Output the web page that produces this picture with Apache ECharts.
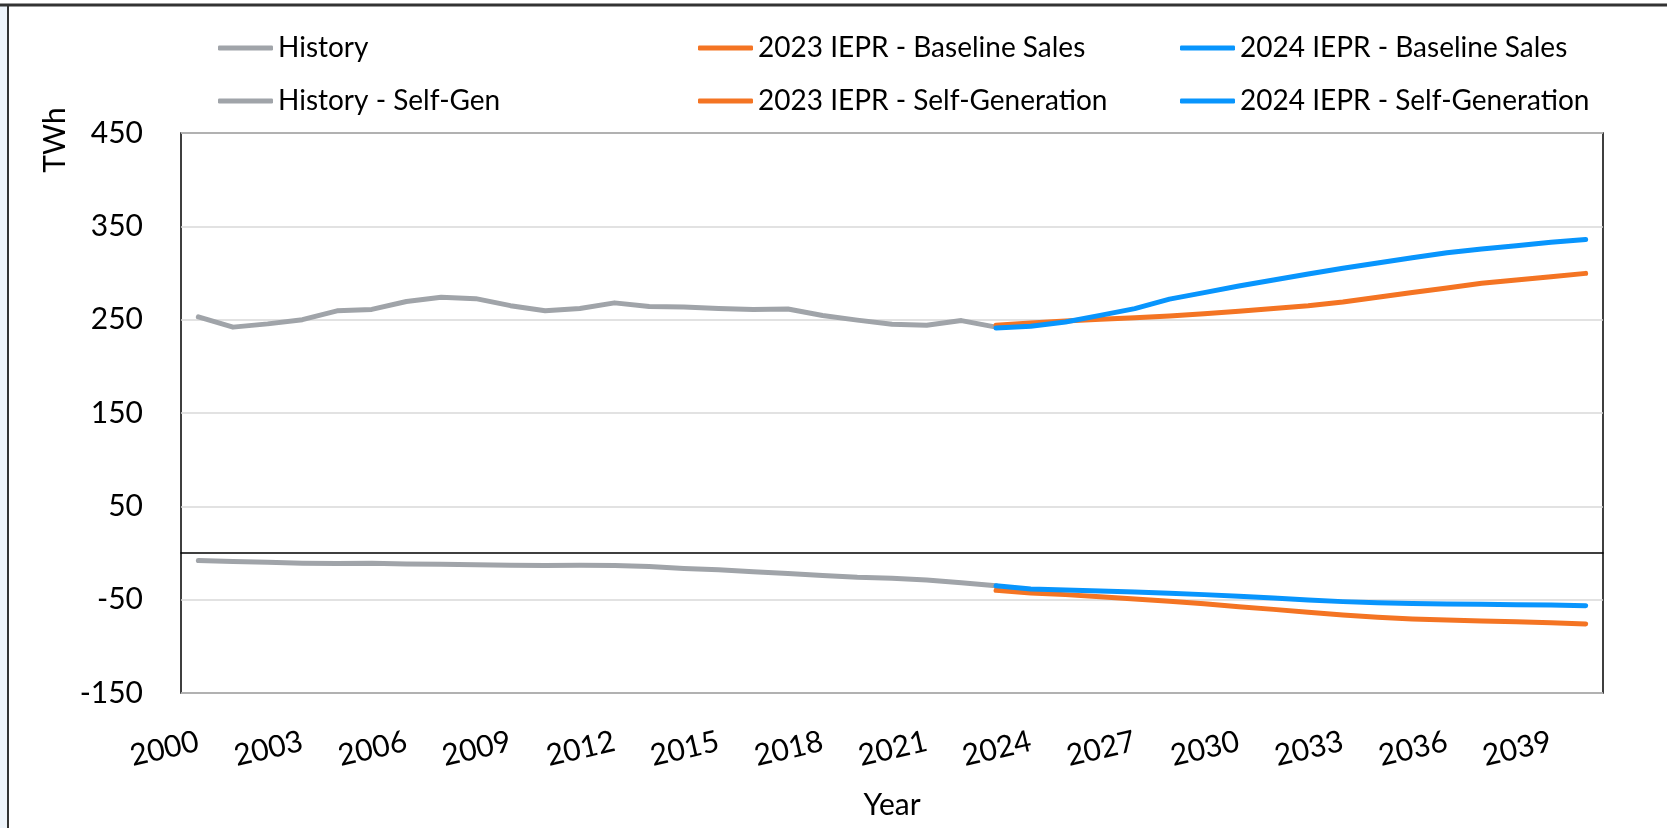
<!DOCTYPE html>
<html>
<head>
<meta charset="utf-8">
<title>Sales and Self-Generation</title>
<script src="https://cdn.jsdelivr.net/npm/echarts@6.0.0/dist/echarts.min.js"></script>
<style>
    html, body { margin: 0; padding: 0; background: #fff; }
    #main { width: 1667px; height: 828px; }
</style>
</head>
<body>
<div id="main"></div>
<script>
// years 2000 - 2040
var years = [];
for (var y = 2000; y <= 2040; y++) { years.push(String(y)); }

// history 2000 - 2023
var historySales = [253, 242, 245.5, 250, 259.5, 261, 269.5, 274, 272.5, 265, 259.5, 262, 268, 264, 263.5, 262, 261, 261.5, 254.5, 249.5, 245, 244, 249, 242];
var historySelfGen = [-8, -9, -10, -11, -11.3, -11, -11.8, -12, -12.5, -13, -13.3, -13, -13.3, -14.5, -16.5, -18, -20, -22, -24, -26, -27, -29, -32, -35];

// forecasts 2023 - 2040
var sales2023 = [244, 246.4, 248.6, 250.4, 252, 254, 256.4, 259, 262, 265, 269, 274, 279, 284, 289, 292.6, 296, 299.6];
var sales2024 = [241, 243, 247.5, 254.6, 261.8, 272, 279, 286, 292.5, 299, 305, 310.7, 316.4, 321.8, 325.7, 329.3, 332.9, 336];
var selfGen2023 = [-40, -42.9, -44.6, -46.8, -49.3, -51.8, -54.3, -57.5, -60.4, -63.6, -66.4, -68.9, -70.7, -71.8, -72.9, -73.6, -74.6, -76];
var selfGen2024 = [-35, -38.6, -39.6, -40.7, -41.8, -43.2, -44.6, -46.4, -48.2, -50.4, -52.1, -53.2, -54, -54.6, -55, -55.4, -55.7, -56.4];

var seriesNames = ['History', 'History - Self-Gen', '2023 IEPR - Baseline Sales', '2023 IEPR - Self-Generation', '2024 IEPR - Baseline Sales', '2024 IEPR - Self-Generation'];

var gray = '#a0a4a9', orange = '#f47423', blue = '#0895fd';
var font = 'Lato, "Liberation Sans", sans-serif';

// pad a list so it lines up with the year axis
function fromYear(start, vals) {
    var out = [];
    for (var i = 0; i < years.length; i++) {
        var k = i - (start - 2000);
        out.push(k >= 0 && k < vals.length ? vals[k] : null);
    }
    return out;
}

function lineSeries(name, color, data) {
    return {
        name: name,
        type: 'line',
        data: data,
        symbol: 'none',
        connectNulls: false,
        lineStyle: { color: color, width: 5, cap: 'round', join: 'round' },
        itemStyle: { color: color }
    };
}

function legendItem(name, left, top) {
    return {
        data: [name],
        left: left,
        top: top,
        padding: 0,
        icon: 'roundRect',
        itemWidth: 55,
        itemHeight: 5,
        selectedMode: false,
        textStyle: { fontFamily: font, fontSize: 28, color: '#000', lineHeight: 28 }
    };
}

var myChart = echarts.init(document.getElementById('main'));
var option = {
    backgroundColor: '#fff',
    animation: false,
    legend: [
        legendItem(seriesNames[0], 218, 34),
        legendItem(seriesNames[1], 218, 87),
        legendItem(seriesNames[2], 698, 34),
        legendItem(seriesNames[3], 698, 87),
        legendItem(seriesNames[4], 1180, 34),
        legendItem(seriesNames[5], 1180, 87)
    ],
    grid: {
        left: 181,
        right: 64,
        top: 133,
        bottom: 135,
        show: true,
        borderColor: '#000',
        borderWidth: 1.5
    },
    graphic: [
        // outer frame
        { type: 'rect', shape: { x: 0, y: 6, width: 8, height: 822 }, style: { fill: '#eef4fa' }, silent: true },
        { type: 'line', shape: { x1: 0, y1: 5, x2: 1667, y2: 5 }, style: { stroke: '#333', lineWidth: 3 }, silent: true },
        { type: 'line', shape: { x1: 8, y1: 5, x2: 8, y2: 828 }, style: { stroke: '#333', lineWidth: 2 }, silent: true },
        {
            type: 'text',
            x: 55,
            y: 140,
            rotation: Math.PI / 2,
            style: { text: 'TWh', fontFamily: font, fontSize: 30, fill: '#000', align: 'center', verticalAlign: 'middle' }
        }
    ],
    xAxis: {
        type: 'category',
        data: years,
        boundaryGap: true,
        name: 'Year',
        nameLocation: 'middle',
        nameGap: 97,
        nameTextStyle: { fontFamily: font, fontSize: 30, color: '#000' },
        axisLine: { onZero: true, lineStyle: { color: '#000', width: 1.5 } },
        axisTick: { show: false },
        axisLabel: {
            interval: 2,
            rotate: 13,
            margin: 48,
            fontFamily: font,
            fontSize: 30,
            color: '#000'
        },
        splitLine: { show: false }
    },
    yAxis: {
        type: 'value',
        min: -150,
        max: 450,
        interval: 100,
        axisLine: { show: false },
        axisTick: { show: false },
        axisLabel: { margin: 38, fontFamily: font, fontSize: 30, color: '#000' },
        splitLine: { lineStyle: { color: '#d9d9d9', width: 1.5 } }
    },
    series: [
        lineSeries(seriesNames[0], gray, fromYear(2000, historySales)),
        lineSeries(seriesNames[1], gray, fromYear(2000, historySelfGen)),
        lineSeries(seriesNames[2], orange, fromYear(2023, sales2023)),
        lineSeries(seriesNames[3], orange, fromYear(2023, selfGen2023)),
        lineSeries(seriesNames[4], blue, fromYear(2023, sales2024)),
        lineSeries(seriesNames[5], blue, fromYear(2023, selfGen2024))
    ]
};
myChart.setOption(option);
</script>
</body>
</html>
